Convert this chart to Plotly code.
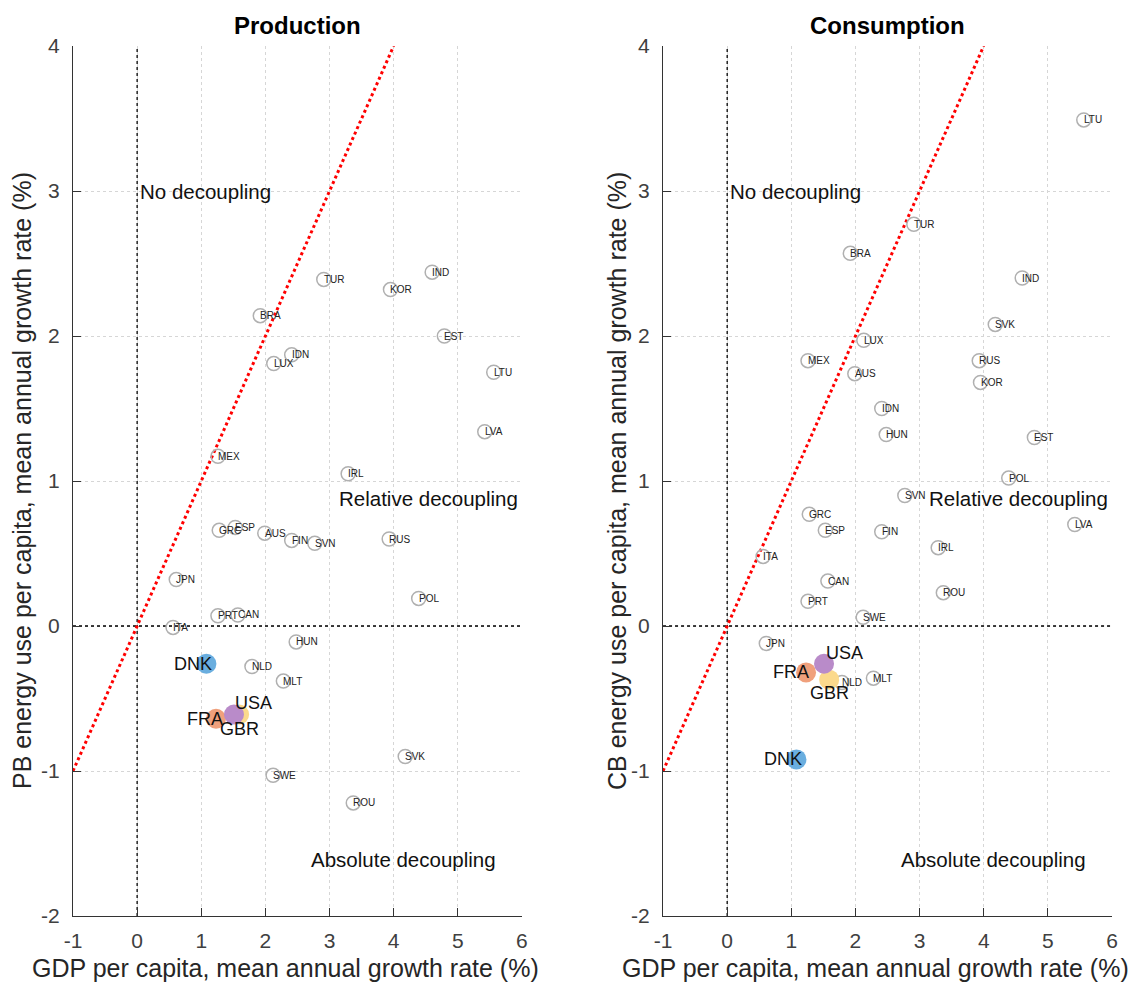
import plotly.graph_objects as go

countries = ["TUR", "IND", "KOR", "BRA", "EST", "IDN", "LUX", "LTU", "LVA", "MEX",
             "IRL", "GRC", "ESP", "AUS", "FIN", "SVN", "RUS", "JPN", "POL", "PRT",
             "CAN", "ITA", "HUN", "NLD", "MLT", "SVK", "SWE", "ROU"]
gdp_growth = [2.91, 4.60, 3.95, 1.92, 4.79, 2.41, 2.13, 5.56, 5.42, 1.26,
              3.29, 1.28, 1.53, 1.99, 2.41, 2.77, 3.93, 0.61, 4.39, 1.26,
              1.57, 0.56, 2.48, 1.79, 2.28, 4.18, 2.12, 3.37]
pb_energy = [2.39, 2.44, 2.32, 2.14, 2.00, 1.87, 1.81, 1.75, 1.34, 1.17,
             1.05, 0.66, 0.68, 0.64, 0.59, 0.57, 0.60, 0.32, 0.19, 0.07,
             0.076, -0.01, -0.11, -0.28, -0.38, -0.90, -1.03, -1.22]
cb_energy = [2.77, 2.40, 1.68, 2.57, 1.30, 1.50, 1.97, 3.49, 0.70, 1.83,
             0.54, 0.77, 0.66, 1.74, 0.65, 0.90, 1.83, -0.12, 1.02, 0.17,
             0.31, 0.48, 1.32, -0.39, -0.36, 2.08, 0.06, 0.23]

hl_countries = ["DNK", "FRA", "GBR", "USA"]
hl_gdp = [1.08, 1.23, 1.59, 1.51]
hl_pb = [-0.26, -0.64, -0.61, -0.61]
hl_cb = [-0.92, -0.32, -0.37, -0.26]
hl_colors = ["#6aaedf", "#f0a07c", "#fbd98c", "#b98bc9"]

x_ticks = [-1, 0, 1, 2, 3, 4, 5, 6]
x_ticktext = ["-1", "0", "1", "2", "3", "4", "5", "6"]
y_ticks = [-2, -1, 0, 1, 2, 3, 4]
y_ticktext = ["-2", "-1", "0", "1", "2", "3", "4"]
panel_titles = ["Production", "Consumption"]
y_titles = ["PB energy use per capita, mean annual growth rate (%)",
            "CB energy use per capita, mean annual growth rate (%)"]
x_title = "GDP per capita, mean annual growth rate (%)"
region_labels = ["No decoupling", "Relative decoupling", "Absolute decoupling"]
region_x = [1.07, 4.55, 4.15]
region_y = [3.0, 0.88, -1.61]

# label placement for highlighted countries: (xanchor, xshift, yshift)
hl_place_prod = [("right", 8, 0), ("right", 9, 0), ("center", 0, -15), ("left", -1, 11)]
hl_place_cons = [("right", 8, 0), ("right", 5, 0), ("center", 0, -13), ("left", 0, 11)]

FONT = "Liberation Sans, Arial, Helvetica, sans-serif"

fig = go.Figure()
annotations = []

panels = [("x", "y", pb_energy, hl_pb, hl_place_prod),
          ("x2", "y2", cb_energy, hl_cb, hl_place_cons)]

for i, (xa, ya, yvals, hly, place) in enumerate(panels):
    # reference lines
    fig.add_trace(go.Scatter(x=[x_ticks[0], x_ticks[-1]], y=[0, 0], mode="lines",
                             line=dict(color="black", width=1.3, dash="dot"),
                             xaxis=xa, yaxis=ya, showlegend=False, hoverinfo="skip"))
    fig.add_trace(go.Scatter(x=[0, 0], y=[y_ticks[0], y_ticks[-1]], mode="lines",
                             line=dict(color="black", width=1.3, dash="dot"),
                             xaxis=xa, yaxis=ya, showlegend=False, hoverinfo="skip"))
    fig.add_trace(go.Scatter(x=[-1, 4], y=[-1, 4], mode="lines",
                             line=dict(color="#ff0000", width=3, dash="dot"),
                             xaxis=xa, yaxis=ya, showlegend=False, hoverinfo="skip"))
    # other countries
    fig.add_trace(go.Scatter(x=gdp_growth, y=yvals, mode="markers",
                             marker=dict(symbol="circle-open", size=14,
                                         color="#b0b0b0", line=dict(width=1.5, color="#b0b0b0")),
                             text=countries, xaxis=xa, yaxis=ya, showlegend=False))
    for c, gx, gy in zip(countries, gdp_growth, yvals):
        annotations.append(dict(x=gx, y=gy, xref=xa, yref=ya, text=c, showarrow=False,
                                xanchor="left", yanchor="middle", xshift=-2,
                                font=dict(family=FONT, size=10, color="#222222")))
    # highlighted countries
    for c, gx, gy, col in zip(hl_countries, hl_gdp, hly, hl_colors):
        fig.add_trace(go.Scatter(x=[gx], y=[gy], mode="markers",
                                 marker=dict(symbol="circle", size=20, color=col),
                                 text=[c], xaxis=xa, yaxis=ya, showlegend=False))
    for c, gx, gy, (anc, xs, ys) in zip(hl_countries, hl_gdp, hly, place):
        annotations.append(dict(x=gx, y=gy, xref=xa, yref=ya, text=c, showarrow=False,
                                xanchor=anc, yanchor="middle", xshift=xs, yshift=ys,
                                font=dict(family=FONT, size=18, color="#111111")))
    # region labels
    for t, rx, ry in zip(region_labels, region_x, region_y):
        annotations.append(dict(x=rx, y=ry, xref=xa, yref=ya, text=t, showarrow=False,
                                xanchor="center", yanchor="middle",
                                font=dict(family=FONT, size=20.5, color="#111111")))

# domains in paper coords (margins l=65, r=33, t=38, b=66; page has 8px body margin)
dom_left = [0.0, 0.4321]
dom_right = [0.5679, 1.0]

tickfont = dict(family=FONT, size=21, color="#404040")
axis_common = dict(range=[-1, 6], tickvals=x_ticks, ticktext=x_ticktext, showgrid=True,
                   gridcolor="#d6d6d6", griddash="3px,3px", gridwidth=1, zeroline=False,
                   showline=True, linecolor="#333333", linewidth=1.2, ticks="inside",
                   ticklen=8, tickcolor="#333333", tickfont=tickfont,
                   ticklabelstandoff=6, fixedrange=True)
yaxis_common = dict(range=[-2, 4], tickvals=y_ticks, ticktext=y_ticktext, showgrid=True,
                    gridcolor="#d6d6d6", griddash="3px,3px", gridwidth=1, zeroline=False,
                    showline=True, linecolor="#333333", linewidth=1.2, ticks="inside",
                    ticklen=8, tickcolor="#333333", tickfont=tickfont,
                    ticklabelstandoff=8, fixedrange=True, domain=[0, 1])

centers = [sum(dom_left) / 2, sum(dom_right) / 2]
for i in range(2):
    annotations.append(dict(x=centers[i], y=1.0, xref="paper", yref="paper",
                            text="<b>" + panel_titles[i] + "</b>", showarrow=False,
                            xanchor="center", yanchor="middle", yshift=21,
                            font=dict(family=FONT, size=24, color="#000000")))
    annotations.append(dict(x=centers[i], y=0, xref="paper", yref="paper",
                            text=x_title, showarrow=False, xanchor="center", yanchor="middle",
                            xshift=-12, yshift=-52,
                            font=dict(family=FONT, size=25, color="#262626")))
annotations.append(dict(x=dom_left[0], y=0.5, xref="paper", yref="paper", text=y_titles[0],
                        showarrow=False, textangle=-90, xanchor="center", yanchor="middle",
                        xshift=-51, font=dict(family=FONT, size=25, color="#262626")))
annotations.append(dict(x=dom_right[0], y=0.5, xref="paper", yref="paper", text=y_titles[1],
                        showarrow=False, textangle=-90, xanchor="center", yanchor="middle",
                        xshift=-46, font=dict(family=FONT, size=25, color="#262626")))

fig.update_layout(
    width=1137, height=974,
    margin=dict(l=65, r=33, t=38, b=66, autoexpand=False),
    plot_bgcolor="white", paper_bgcolor="white",
    xaxis=dict(axis_common, domain=dom_left, anchor="y"),
    yaxis=dict(yaxis_common, anchor="x"),
    xaxis2=dict(axis_common, domain=dom_right, anchor="y2"),
    yaxis2=dict(yaxis_common, anchor="x2"),
    annotations=annotations,
    font=dict(family=FONT),
    showlegend=False,
)

fig.write_html("out.html")
